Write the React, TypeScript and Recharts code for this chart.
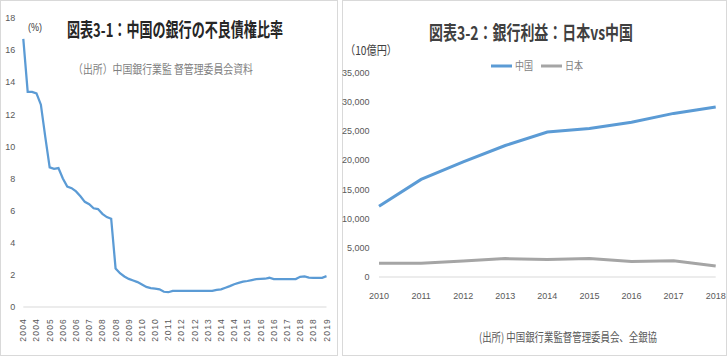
import React from 'react'
import { LineChart, Line, XAxis, YAxis } from 'recharts'

// 図表3-1: 不良債権比率 (%)
const nplPeriods = [
  '2004', '2004', '2004', '2004', '2004', '2004',
  '2005', '2005', '2005',
  '2006', '2006', '2006', '2006', '2006', '2006',
  '2007', '2007', '2007',
  '2008', '2008', '2008', '2008', '2008', '2008',
  '2009', '2009', '2009',
  '2010', '2010', '2010', '2010', '2010', '2010',
  '2011', '2011', '2011',
  '2012', '2012', '2012', '2012', '2012', '2012',
  '2013', '2013', '2013',
  '2014', '2014', '2014', '2014', '2014', '2014',
  '2015', '2015', '2015',
  '2016', '2016', '2016', '2016', '2016', '2016',
  '2017', '2017', '2017',
  '2018', '2018', '2018', '2018', '2018', '2018',
  '2019',
]
const nplRatio = [
  16.7, 13.4, 13.4, 13.3, 12.6, 10.6, 8.7, 8.6, 8.65, 8.0,
  7.5, 7.4, 7.2, 6.9, 6.55, 6.4, 6.15, 6.1, 5.8, 5.6,
  5.5, 2.4, 2.1, 1.9, 1.75, 1.65, 1.55, 1.4, 1.25, 1.18,
  1.15, 1.1, 0.95, 0.92, 1.0, 1.0, 1.0, 1.0, 1.0, 1.0,
  1.0, 1.0, 1.0, 1.0, 1.07, 1.1, 1.2, 1.3, 1.42, 1.5,
  1.58, 1.62, 1.68, 1.74, 1.75, 1.76, 1.82, 1.74, 1.74, 1.74,
  1.74, 1.74, 1.74, 1.88, 1.9, 1.83, 1.81, 1.81, 1.82, 1.92,
]
const nplTicks = [0, 2, 4, 6, 8, 10, 12, 14, 16, 18]

// 図表3-2: 銀行利益 (10億円)
const profitYears = ['2010', '2011', '2012', '2013', '2014', '2015', '2016', '2017', '2018']
const chinaProfit = [12100, 16700, 19700, 22500, 24800, 25400, 26500, 28000, 29100]
const japanProfit = [2350, 2350, 2750, 3150, 3000, 3150, 2650, 2800, 1900]
const profitTicks = [0, 5000, 10000, 15000, 20000, 25000, 30000, 35000]
const profitSeries = [
  { key: 'china', name: '中国', color: '#5b9bd5' },
  { key: 'japan', name: '日本', color: '#a5a5a5' },
]

const nplData = nplPeriods.map((period, i) => ({ period, ratio: nplRatio[i] }))
const profitData = profitYears.map((year, i) => ({
  year,
  china: chinaProfit[i],
  japan: japanProfit[i],
}))

const CJK = "'Noto Sans CJK JP', sans-serif"
const LATIN = "'Liberation Sans', Arial, sans-serif"

const NplTick = ({ x, y, payload }: any) => (
  <text
    x={0}
    y={0}
    transform={`translate(${x},${y + 3}) rotate(-90)`}
    textAnchor="end"
    dominantBaseline="central"
    fontSize={8.5}
    letterSpacing={1.2}
    fontFamily={LATIN}
    fill="#595959"
  >
    {payload.value}
  </text>
)

export default function App() {
  return (
    <div style={{ position: 'absolute', left: 0, top: 0, width: 728, height: 357, background: '#fff' }}>
      <div style={{ position: 'absolute', left: 0, top: 0, width: 336, height: 354, border: '1px solid #d9d9d9' }} />
      <div style={{ position: 'absolute', left: 342, top: 0, width: 383, height: 354, border: '1px solid #d9d9d9' }} />

      <div style={{ position: 'absolute', left: 0, top: 0 }}>
        <LineChart width={337} height={357} data={nplData} margin={{ top: 18, right: 10.5, bottom: 5, left: 0 }}>
          <XAxis
            dataKey="period"
            interval={2}
            tick={<NplTick />}
            tickLine={false}
            axisLine={{ stroke: '#d9d9d9' }}
            height={45}
            padding={{ left: 0, right: 0 }}
          />
          <YAxis
            domain={[0, 18]}
            ticks={nplTicks}
            width={23.3}
            axisLine={false}
            tickLine={false}
            tick={{ fontSize: 9, fill: '#595959', fontFamily: LATIN }}
          />
          <Line
            dataKey="ratio"
            type="linear"
            stroke="#5b9bd5"
            strokeWidth={2.25}
            dot={false}
            isAnimationActive={false}
          />
        </LineChart>
      </div>

      <div style={{ position: 'absolute', left: 342, top: 0 }}>
        <LineChart width={386} height={357} data={profitData} margin={{ top: 72.5, right: 12.3, bottom: 40, left: 0 }}>
          <XAxis
            dataKey="year"
            tickLine={false}
            axisLine={{ stroke: '#d9d9d9' }}
            tickMargin={10}
            height={40}
            interval={0}
            tick={{ fontSize: 9, fill: '#595959', fontFamily: LATIN }}
          />
          <YAxis
            domain={[0, 35000]}
            ticks={profitTicks}
            width={37}
            axisLine={false}
            tickLine={false}
            tickMargin={3.5}
            tickFormatter={(v: number) => v.toLocaleString('en-US')}
            tick={{ fontSize: 9, fill: '#595959', fontFamily: LATIN }}
          />
          {profitSeries.map((s) => (
            <Line
              key={s.key}
              dataKey={s.key}
              name={s.name}
              type="linear"
              stroke={s.color}
              strokeWidth={3}
              dot={false}
              isAnimationActive={false}
            />
          ))}
        </LineChart>
      </div>

      <svg width={728} height={357} style={{ position: 'absolute', left: 0, top: 0, pointerEvents: 'none' }}>
        <text x={67} y={37} fontSize={19} fontWeight="bold" fontFamily={CJK} fill="#262626" textLength={216} lengthAdjust="spacingAndGlyphs">
          図表3-1：中国の銀行の不良債権比率
        </text>
        <text x={73} y={74} fontSize={12} fontFamily={CJK} fill="#7f7f7f" textLength={180} lengthAdjust="spacingAndGlyphs">
          （出所）中国銀行業監 督管理委員会資料
        </text>
        <text x={28} y={31} fontSize={10} fontFamily={LATIN} fill="#404040" textLength={14} lengthAdjust="spacingAndGlyphs">
          (%)
        </text>

        <text x={429} y={40} fontSize={19} fontWeight="bold" fontFamily={CJK} fill="#404040" textLength={204} lengthAdjust="spacingAndGlyphs">
          図表3-2：銀行利益：日本vs中国
        </text>
        <text x={345} y={55} fontSize={12} fontFamily={CJK} fill="#404040" textLength={52} lengthAdjust="spacingAndGlyphs">
          （10億円）
        </text>
        {profitSeries.map((s, i) => {
          const x0 = 491 + i * 50
          return (
            <g key={s.key}>
              <line x1={x0} x2={x0 + 21} y1={66} y2={66} stroke={s.color} strokeWidth={3} />
              <text x={x0 + 24} y={70} fontSize={11} fontFamily={CJK} fill="#7f7f7f" textLength={18} lengthAdjust="spacingAndGlyphs">
                {s.name}
              </text>
            </g>
          )
        })}
        <text x={479} y={342} fontSize={12} fontFamily={CJK} fill="#595959" textLength={178} lengthAdjust="spacingAndGlyphs">
          (出所) 中国銀行業監督管理委員会、全銀協
        </text>
      </svg>
    </div>
  )
}
